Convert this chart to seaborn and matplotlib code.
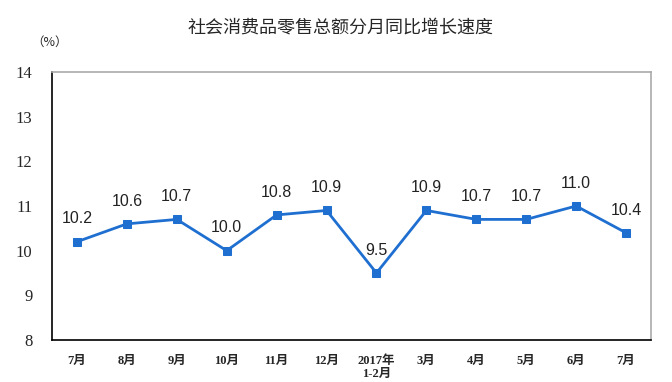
import matplotlib
matplotlib.use("Agg")
import matplotlib.pyplot as plt
import seaborn as sns
import pandas as pd

# Data
months = ["7月", "8月", "9月", "10月", "11月", "12月", "2017年\n1-2月",
          "3月", "4月", "5月", "6月", "7月"]
growth = [10.2, 10.6, 10.7, 10.0, 10.8, 10.9, 9.5, 10.9, 10.7, 10.7, 11.0, 10.4]
y_ticks = [8, 9, 10, 11, 12, 13, 14]

title = "社会消费品零售总额分月同比增长速度"
line_color = "#1f6fd1"

sns.set_style("white")
plt.rcParams['font.family'] = ['Noto Sans CJK SC', 'DejaVu Sans']

df = pd.DataFrame({"pos": range(len(months)), "growth": growth})

fig = plt.figure(figsize=(6.72, 3.82), dpi=100)
ax = fig.add_axes([52 / 672, 1 - 340 / 382, (651 - 52) / 672, (340 - 72) / 382])

sns.lineplot(data=df, x="pos", y="growth", ax=ax, color=line_color,
             linewidth=2, marker="s", markersize=5.5,
             markeredgecolor=line_color, markerfacecolor=line_color)

# value labels above points
for i, v in enumerate(growth):
    ax.annotate(f"{v:.1f}", (i, v), textcoords="offset points", xytext=(0, 11),
                ha="center", va="bottom", fontsize=11.5, color="#222222",
                family=["Liberation Sans", "DejaVu Sans"])

ax.set_xlim(-0.5, len(months) - 0.5)
ax.set_ylim(8, 14)
ax.set_yticks(y_ticks)
ax.set_yticklabels([str(t) for t in y_ticks], family=["Liberation Serif"], fontsize=12)

# ticks between categories, labels centred on categories
ax.set_xticks([i + 0.5 for i in range(len(months) - 1)])
ax.set_xticklabels([])
ax.set_xticks(range(len(months)), minor=True)
ax.set_xticklabels(months, minor=True, fontsize=9, fontweight="bold",
                   family=["Liberation Serif", "Noto Sans CJK SC"],
                   va="top", linespacing=1.05)
ax.tick_params(axis="x", which="minor", length=0, pad=11)
ax.tick_params(axis="x", which="major", direction="in", length=4, width=1, color="black")
ax.tick_params(axis="y", direction="in", length=3, width=1, color="black", pad=14)
ax.set_xlabel("")
ax.set_ylabel("")

for side in ["left", "bottom"]:
    ax.spines[side].set_color("black")
    ax.spines[side].set_linewidth(1.2)
for side in ["top", "right"]:
    ax.spines[side].set_color("#aaaaaa")
    ax.spines[side].set_linewidth(1.2)

fig.text(340 / 672, 1 - 28 / 382, title, ha="center", va="center", fontsize=13)
fig.text(50 / 672, 1 - 42 / 382, "（%）", ha="center", va="center", fontsize=9,
         family=["Noto Sans CJK SC", "DejaVu Sans"])

fig.savefig("out.png", dpi=100)
